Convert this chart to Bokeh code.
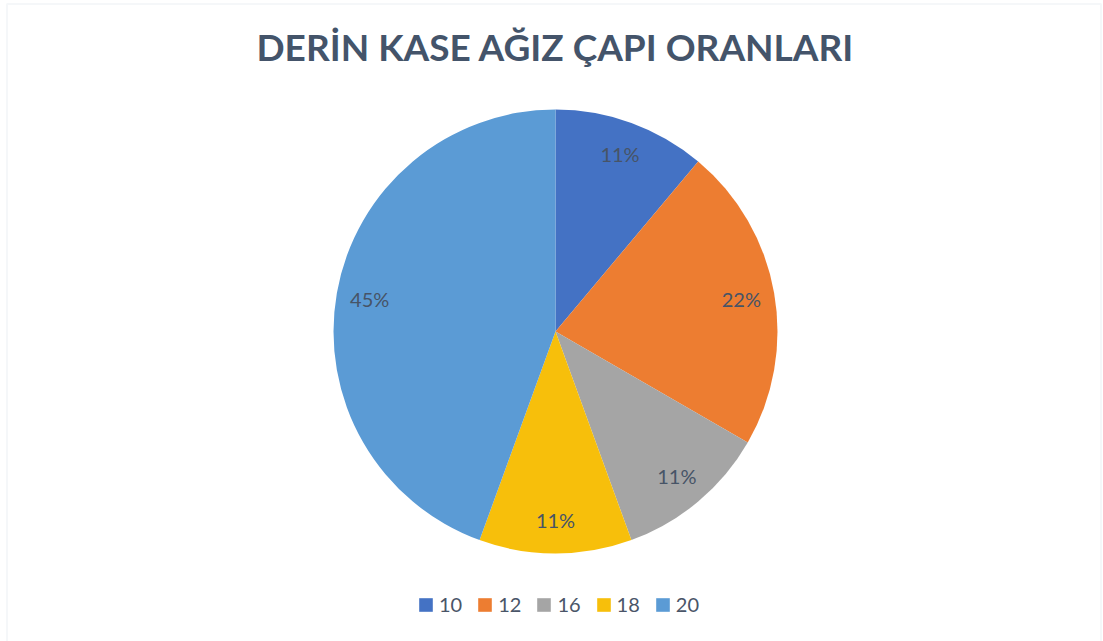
import math
from bokeh.plotting import figure
from bokeh.models import ColumnDataSource, Range1d, Legend, LegendItem, BoxAnnotation
from bokeh.core.properties import value
from bokeh.embed import file_html
from bokeh.resources import INLINE

# ---- data ----
title_text = "DERİN KASE AĞIZ ÇAPI ORANLARI"
categories = ["10", "12", "16", "18", "20"]
counts = [1, 2, 1, 1, 4]
pct_labels = ["11%", "22%", "11%", "11%", "45%"]
colors = ["#4472c4", "#ed7d31", "#a5a5a5", "#f7bf0b", "#5b9bd5"]

# ---- layout ----
W, H = 1103, 641
cx, cy = 555, H - 331
R = 222
label_r = 0.85 * R

total = float(sum(counts))
starts, ends, lx, ly = [], [], [], []
cum = 0.0
for v in counts:
    a0 = math.pi / 2 - cum / total * 2 * math.pi
    cum += v
    a1 = math.pi / 2 - cum / total * 2 * math.pi
    starts.append(a0)
    ends.append(a1)
    mid = (a0 + a1) / 2
    lx.append(cx + label_r * math.cos(mid))
    ly.append(cy + label_r * math.sin(mid))

src = ColumnDataSource(dict(cat=categories, start=starts, end=ends, color=colors,
                            lx=lx, ly=ly, label=pct_labels))

p = figure(width=W, height=H, output_backend="svg", toolbar_location=None,
           x_range=Range1d(0, W), y_range=Range1d(0, H), min_border=0)
p.axis.visible = False
p.grid.visible = False
p.outline_line_color = None
p.background_fill_color = "white"
p.border_fill_color = "white"

# frame border
p.add_layout(BoxAnnotation(left=6.5, right=1100.5, top=H - 3.5, bottom=-20,
                           fill_alpha=0, line_color="#dfe4ea", line_width=2))

wr = p.wedge(x=cx, y=cy, radius=R, start_angle="start", end_angle="end",
             direction="clock", fill_color="color", line_color=None, source=src)

p.text(x="lx", y="ly", text="label", source=src, text_align="center",
       text_baseline="middle", text_font=value("Lato"), text_font_size="20px",
       text_color="#475467")

tsrc = ColumnDataSource(dict(x=[cx], y=[H - 46], t=[title_text]))
p.text(x="x", y="y", text="t", source=tsrc, text_align="center",
       text_baseline="middle", text_font=value("Lato"), text_font_style="bold",
       text_font_size="37px", text_color="#44546a")

items = [LegendItem(label=c, renderers=[wr], index=i) for i, c in enumerate(categories)]
legend = Legend(items=items, orientation="horizontal", location=(417, 25),
                padding=0, margin=0, glyph_width=17, glyph_height=17,
                label_standoff=5, spacing=14, label_text_font="Lato",
                label_text_font_size="20px", label_text_color="#4a5568",
                border_line_color=None, background_fill_alpha=0)
p.add_layout(legend)

open("out.html", "w").write(file_html(p, INLINE))
